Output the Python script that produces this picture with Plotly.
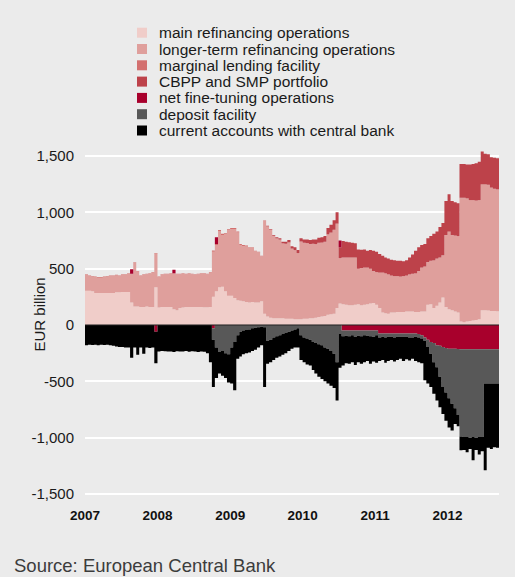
import plotly.graph_objects as go

# ---------------- data (EUR billion, semi-monthly readings) ----------------
dates = [f"{y}-{m:02d}-{d:02d}" for y in range(2007, 2013)
         for m in range(1, 13) for d in (1, 16)][:138]

main_refinancing = (
    [305, 305, 300, 285, 283, 283, 285, 285, 283, 285, 290, 290, 292, 292, 292, 200, 165, 165, 160, 160, 165, 160, 160, 335]
    + [155, 160, 160, 160, 160, 140, 130, 150, 155, 160, 160, 160, 160, 160, 160, 158, 158, 160, 250, 300, 335, 340, 300, 260]
    + [260, 240, 220, 215, 210, 205, 200, 205, 200, 200, 210, 100, 75, 65, 60, 60, 60, 60, 55, 55, 55, 50, 50, 50]
    + [55, 55, 60, 60, 65, 70, 75, 80, 90, 95, 100, 150, 190, 185, 180, 175, 175, 180, 185, 175, 180, 185, 190, 195]
    + [180, 150, 110, 105, 100, 110, 110, 115, 115, 115, 120, 120, 120, 115, 115, 120, 120, 180, 185, 150, 170, 200, 245, 160]
    + [140, 130, 120, 110, 30, 25, 30, 35, 40, 45, 50, 130, 130, 128, 125, 125, 123, 120]
)

longer_term_refinancing = (
    [140, 130, 130, 140, 137, 137, 140, 145, 152, 150, 150, 145, 153, 153, 163, 250, 387, 310, 275, 285, 285, 295, 305, 300]
    + [270, 285, 290, 290, 295, 315, 320, 300, 300, 290, 295, 290, 285, 290, 295, 297, 292, 305, 401, 410, 499, 460, 505, 580]
    + [592, 612, 600, 495, 490, 491, 486, 481, 456, 446, 401, 823, 798, 779, 728, 706, 694, 661, 663, 676, 619, 612, 584, 688]
    + [671, 669, 656, 658, 649, 656, 653, 654, 711, 721, 741, 746, 401, 411, 416, 421, 421, 416, 311, 326, 326, 321, 306, 281]
    + [286, 311, 351, 351, 346, 326, 321, 316, 311, 316, 316, 326, 331, 341, 361, 386, 396, 376, 381, 421, 416, 396, 371, 636]
    + [686, 666, 671, 676, 1096, 1101, 1091, 1071, 1066, 1056, 1056, 1116, 1116, 1113, 1091, 1081, 1078, 1076]
)

marginal_lending = (
    [5, 5, 5, 5, 5, 5, 5, 5, 5, 5, 5, 5, 5, 5, 5, 5, 5, 5, 5, 5, 5, 5, 5, 5]
    + [5, 5, 5, 5, 5, 5, 5, 5, 5, 5, 5, 5, 5, 5, 5, 5, 5, 5, 10, 10, 10, 10, 10, 10]
    + [10, 10, 10, 10, 10, 10, 4, 4, 4, 4, 4, 4, 4, 4, 4, 4, 4, 4, 4, 4, 4, 4, 4, 4]
    + [4, 4, 4, 4, 4, 4, 4, 4, 4, 4, 4, 4, 4, 4, 4, 4, 4, 4, 4, 4, 4, 4, 4, 4]
    + [4, 4, 4, 4, 4, 4, 4, 4, 4, 4, 4, 4, 4, 4, 4, 4, 4, 4, 4, 4, 4, 4, 4, 4]
    + [4, 4, 4, 4, 4, 4, 4, 4, 4, 4, 4, 4, 4, 4, 4, 4, 4, 4]
)

cbpp_smp = (
    [0, 0, 0, 0, 0, 0, 0, 0, 0, 0, 0, 0, 0, 0, 0, 0, 0, 0, 0, 0, 0, 0, 0, 0]
    + [0, 0, 0, 0, 0, 0, 0, 0, 0, 0, 0, 0, 0, 0, 0, 0, 0, 0, 0, 0, 0, 0, 0, 0]
    + [0, 0, 0, 0, 0, 0, 0, 0, 0, 0, 0, 0, 3, 5, 8, 10, 12, 15, 18, 20, 22, 24, 27, 28]
    + [30, 32, 35, 38, 42, 45, 48, 52, 55, 70, 85, 100, 95, 145, 140, 135, 130, 125, 170, 163, 160, 150, 165, 180]
    + [180, 165, 150, 140, 140, 140, 140, 135, 140, 130, 135, 150, 170, 200, 210, 200, 200, 210, 220, 235, 240, 270, 285, 300]
    + [330, 300, 295, 290, 300, 300, 300, 315, 320, 330, 340, 290, 270, 270, 270, 275, 275, 280]
)

net_fine_tuning = (
    [0, 0, 0, 0, 0, 0, 0, 0, 0, 0, 0, 0, 0, 0, 0, 40, 0, 0, 0, 0, 0, 0, 0, -60]
    + [0, 0, 0, 0, 0, 30, 0, 0, 0, 0, 0, 0, 0, 0, 0, 0, 0, 0, -30, 60, 0, 0, 0, 0]
    + [0, 0, 0, 0, 0, 0, 0, 0, 0, 0, 0, 0, 0, 0, 0, 0, 0, 0, 0, 0, 0, 0, 0, 0]
    + [0, 0, 0, 0, 0, 0, 0, 0, 0, 0, 0, 0, 60, -50, -50, -50, -50, -50, -50, -50, -50, -50, -50, -50]
    + [-50, -75, -75, -75, -75, -75, -75, -75, -75, -75, -75, -75, -75, -75, -80, -90, -110, -130, -150, -160, -180, -185, -195, -205]
    + [-210, -212, -212, -214, -215, -215, -215, -215, -215, -215, -215, -215, -215, -215, -215, -215, -215, -215]
)

deposit_facility = (
    [0, 0, 0, 0, 0, 0, 0, 0, 0, 0, 0, 0, 0, 0, 0, 0, 0, 0, 0, 0, 0, 0, 0, 0]
    + [0, 0, 0, 0, 0, 0, 0, 0, 0, 0, 0, 0, 0, 0, 0, 0, 0, 0, -100, -200, -240, -230, -250, -260]
    + [-200, -150, -90, -60, -50, -45, -40, -30, -25, -20, -15, -20, -140, -130, -110, -100, -90, -80, -70, -60, -50, -40, -30, -90]
    + [-110, -120, -130, -150, -160, -170, -180, -200, -210, -230, -256, -330, -80, -50, -45, -50, -40, -55, -45, -50, -40, -45, -50, -55]
    + [-40, -35, -30, -35, -30, -30, -35, -30, -30, -30, -30, -35, -35, -30, -30, -30, -30, -65, -105, -170, -195, -275, -355, -395]
    + [-440, -488, -528, -586, -775, -780, -780, -785, -780, -785, -780, -780, -305, -305, -305, -305, -305, -305]
)

current_accounts = (
    [-180, -175, -178, -176, -180, -175, -178, -176, -180, -185, -190, -195, -195, -200, -200, -290, -200, -265, -200, -255, -200, -205, -200, -280]
    + [-235, -230, -232, -235, -235, -240, -232, -235, -235, -230, -238, -232, -235, -240, -235, -238, -250, -330, -420, -270, -190, -220, -220, -250]
    + [-320, -430, -210, -220, -210, -205, -205, -200, -195, -180, -165, -530, -205, -200, -200, -190, -190, -185, -180, -170, -160, -160, -170, -220]
    + [-220, -230, -230, -250, -270, -290, -300, -300, -310, -310, -304, -340, -300, -260, -245, -245, -240, -250, -235, -245, -240, -225, -245, -220]
    + [-245, -210, -205, -225, -215, -205, -215, -205, -195, -215, -200, -205, -190, -215, -220, -220, -350, -325, -295, -280, -295, -270, -240, -250]
    + [-260, -236, -140, -100, -123, -115, -135, -100, -205, -110, -155, -125, -770, -570, -580, -565, -570, -565]
)

series_names = [
    "main refinancing operations",
    "longer-term refinancing operations",
    "marginal lending facility",
    "CBPP and SMP portfolio",
    "net fine-tuning operations",
    "deposit facility",
    "current accounts with central bank",
]
colors = ["#f0cdc9", "#df9f9c", "#d3706f", "#bd424a", "#a8002c", "#585858", "#000000"]

year_ticks = ["2007-01-01", "2008-01-01", "2009-01-01", "2010-01-01", "2011-01-01", "2012-01-01"]
year_labels = ["2007", "2008", "2009", "2010", "2011", "2012"]
y_ticks = [-1500, -1000, -500, 0, 500, 1000, 1500]
y_labels = ["-1,500", "-1,000", "-500", "0", "500", "1,000", "1,500"]

# ---------------- layout geometry (pixels) ----------------
W, H = 515, 577
L, R, T, B = 85, 499, 146, 497
BG = "#ebebeb"
FONT = "Liberation Sans, Arial, Helvetica, sans-serif"


def px_x(p):
    return (p - L) / (R - L)


def px_y(p):
    return (B - p) / (B - T)


fine_pos = [max(v, 0) for v in net_fine_tuning]
fine_neg = [min(v, 0) for v in net_fine_tuning]

fig = go.Figure()


def area(values, color, group):
    fig.add_trace(go.Scatter(
        x=dates, y=values, mode="lines", stackgroup=group,
        line=dict(width=0, shape="hv"), fillcolor=color,
        showlegend=False, hoverinfo="skip"))


area(main_refinancing, colors[0], "pos")
area(longer_term_refinancing, colors[1], "pos")
area(marginal_lending, colors[2], "pos")
area(cbpp_smp, colors[3], "pos")
area(fine_pos, colors[4], "pos")
area(fine_neg, colors[4], "neg")
area(deposit_facility, colors[5], "neg")
area(current_accounts, colors[6], "neg")

shapes = [dict(type="line", xref="paper", x0=0, x1=1, yref="y", y0=0, y1=0,
               line=dict(color="#222222", width=1), layer="above")]
annotations = []
legend_y = [32.7, 49.0, 65.3, 81.6, 97.9, 114.2, 130.5]
for name, col, yc in zip(series_names, colors, legend_y):
    shapes.append(dict(type="rect", xref="paper", yref="paper",
                       x0=px_x(137), x1=px_x(147), y0=px_y(yc + 5), y1=px_y(yc - 5),
                       fillcolor=col, line=dict(width=0)))
    annotations.append(dict(text=name, xref="paper", yref="paper",
                            x=px_x(157), y=px_y(yc), xanchor="left", yanchor="middle",
                            showarrow=False, font=dict(family=FONT, size=15.5, color="#1a1a1a")))

annotations.append(dict(text="EUR billion", xref="paper", yref="paper",
                        x=px_x(38.5), y=px_y(315), textangle=-90,
                        xanchor="center", yanchor="middle", showarrow=False,
                        font=dict(family=FONT, size=15, color="#1a1a1a")))
annotations.append(dict(text="Source: European Central Bank", xref="paper", yref="paper",
                        x=px_x(12), y=px_y(565), xanchor="left", yanchor="middle",
                        showarrow=False, font=dict(family=FONT, size=18.5, color="#3c3c3c")))

fig.update_layout(
    width=W, height=H, autosize=False,
    margin=dict(l=L, r=W - R, t=T, b=H - B, pad=0),
    paper_bgcolor=BG, plot_bgcolor=BG,
    showlegend=False,
    shapes=shapes, annotations=annotations,
    font=dict(family=FONT, color="#1a1a1a"),
)
fig.update_xaxes(
    type="date", range=["2007-01-01", "2012-09-16"],
    tickvals=year_ticks, ticktext=year_labels,
    showgrid=False, zeroline=False, showline=False, ticks="",
    tickfont=dict(family=FONT, size=13.5, color="#111111", weight="bold"),
    ticklabelstandoff=8,
)
fig.update_yaxes(
    range=[-1527, 1589], tickvals=y_ticks, ticktext=y_labels,
    showgrid=True, gridcolor="#ffffff", gridwidth=2,
    zeroline=False, showline=False, ticks="",
    tickfont=dict(family=FONT, size=15, color="#1a1a1a"),
    ticklabelstandoff=10,
)

fig.write_html(
    "out.html",
    config={"displayModeBar": False},
    post_script="document.body.style.margin='0';document.body.style.background='#ebebeb';",
)
